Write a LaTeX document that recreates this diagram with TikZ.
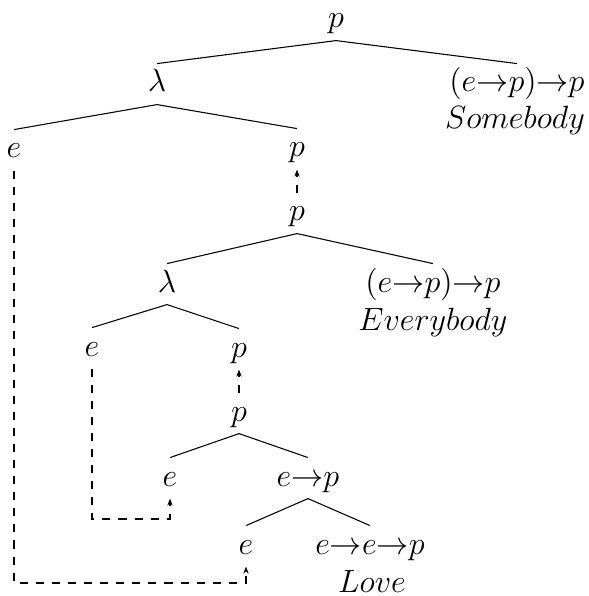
\documentclass[tikz,border=0pt]{standalone}
\usetikzlibrary{arrows.meta}
\tikzset{
  cat/.style={font=\large, inner sep=2pt, text height=8.4pt, text depth=2.5pt, anchor=base},
  word/.style={font=\large, inner sep=0pt, anchor=base},
  move/.style={dashed, -{Stealth[length=2.6pt,width=2pt]}},
}
\begin{document}
\begin{tikzpicture}[x=0.3731pt, y=-0.3731pt]
\useasboundingbox (0,0) rectangle (588,596);
% upper tree
\node[cat] (s) at (336,28) {$p$};
\node[cat] (lam1) at (157,92) {$\lambda$};
\node[cat] (q1) at (517,92) {$(e{\to}p){\to}p$};
\node[word] (somebody) at (515,129) {$Somebody$};
\node[cat] (e1) at (14,158) {$e$};
\node[cat] (p2) at (297,157) {$p$};
% middle tree
\node[cat] (p3) at (297,221) {$p$};
\node[cat] (lam2) at (167,292) {$\lambda$};
\node[cat] (q2) at (433,292) {$(e{\to}p){\to}p$};
\node[word] (everybody) at (433,330) {$Everybody$};
\node[cat] (e3) at (92,356) {$e$};
\node[cat] (p4) at (239,357) {$p$};
% lower tree
\node[cat] (p5) at (239,421) {$p$};
\node[cat] (e5) at (170,486) {$e$};
\node[cat] (vp) at (308,486) {$e{\to}p$};
\node[cat] (e6) at (246,554) {$e$};
\node[cat] (v) at (370,554) {$e{\to}e{\to}p$};
\node[word] (love) at (372,592) {$Love$};
% branches
\draw (s.south) -- (lam1.north);
\draw (s.south) -- (q1.north);
\draw (lam1.south) -- (e1.north);
\draw (lam1.south) -- (p2.north);
\draw (p3.south) -- (lam2.north);
\draw (p3.south) -- (q2.north);
\draw (lam2.south) -- (e3.north);
\draw (lam2.south) -- (p4.north);
\draw (p5.south) -- (e5.north);
\draw (p5.south) -- (vp.north);
\draw (vp.south) -- (e6.north);
\draw (vp.south) -- (v.north);
% movement links
\coordinate (b1) at (14,583);
\coordinate (b3) at (92,519);
\draw[move] (p3) -- (p2);
\draw[move] (p5) -- (p4);
\draw[move] (e1) -- (b1) -| (e6);
\draw[move] (e3) -- (b3) -| (e5);
\end{tikzpicture}
\end{document}
